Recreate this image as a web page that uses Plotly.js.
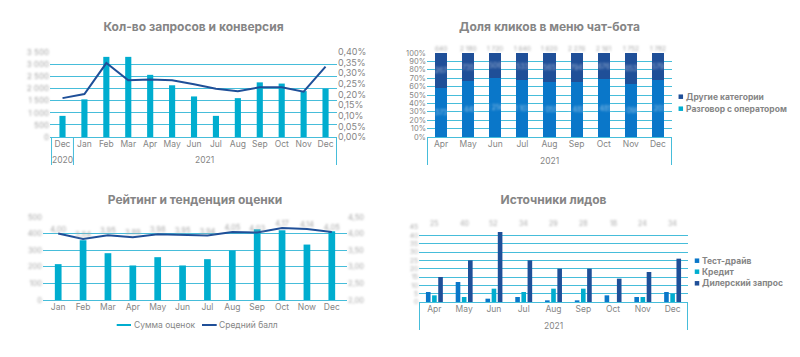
<!DOCTYPE html>
<html><head><meta charset="utf-8">
<script src="https://cdn.plot.ly/plotly-3.0.1.min.js"></script>
<style>
html,body{margin:0;padding:0;background:#fff;width:800px;height:357px;overflow:hidden;}
.ch{position:absolute;}
</style></head><body>
<svg width="0" height="0" style="position:absolute"><defs><filter id="blurF" x="-30%" y="-60%" width="160%" height="220%"><feGaussianBlur stdDeviation="0.9"/></filter></defs></svg>
<div id="c1" class="ch" style="left:0;top:0;width:400px;height:180px"></div>
<div id="c2" class="ch" style="left:400px;top:0;width:400px;height:180px"></div>
<div id="c3" class="ch" style="left:0;top:180px;width:400px;height:177px"></div>
<div id="c4" class="ch" style="left:400px;top:180px;width:400px;height:177px"></div>
<script>
// ---------- Chart 1: Кол-во запросов и конверсия ----------
const c1Years = ['2020','2021','2021','2021','2021','2021','2021','2021','2021','2021','2021','2021','2021'];
const c1Months = ['Dec','Jan','Feb','Mar','Apr','May','Jun','Jul','Aug','Sep','Oct','Nov','Dec'];
const c1Requests = [870,1550,3300,3300,2560,2130,1670,870,1600,2250,2200,1890,1990];
const c1Conversion = [0.00183,0.00202,0.00348,0.00267,0.00271,0.00267,0.00248,0.00227,0.00215,0.00234,0.00234,0.00213,0.00331];

// ---------- Chart 2: Доля кликов в меню чат-бота ----------
const c2Year = ['2021','2021','2021','2021','2021','2021','2021','2021','2021'];
const c2Months = ['Apr','May','Jun','Jul','Aug','Sep','Oct','Nov','Dec'];
const c2Operator = [373,1445,1214,1107,1055,1482,1485,1099,1203];
const c2Other = [267,735,506,533,565,794,676,653,579];
const c2Names = ['Другие категории','Разговор с оператором'];

// ---------- Chart 3: Рейтинг и тенденция оценки ----------
const c3Months = ['Jan','Feb','Mar','Apr','May','Jun','Jul','Aug','Sep','Oct','Now','Dec'];
const c3Sum = [216,360,282,208,258,208,246,298,426,420,334,414];
const c3Avg = [4.00,3.84,3.95,3.89,3.98,3.95,3.94,4.05,4.03,4.17,4.14,4.05];
const c3Names = ['Сумма оценок','Средний балл'];

// ---------- Chart 4: Источники лидов ----------
const c4Year = ['2021','2021','2021','2021','2021','2021','2021','2021','2021'];
const c4Months = ['Apr','May','Jun','Jul','Aug','Sep','Oct','Nov','Dec'];
const c4TestDrive = [6,12,2,3,1,1,4,3,6];
const c4Credit = [4,3,8,6,8,8,0,3,5];
const c4Dealer = [15,25,42,25,20,20,14,18,26];
const c4Totals = [25,40,52,34,29,28,18,24,34];
const c4Names = ['Тест-драйв','Кредит','Дилерский запрос'];

const FONT = 'Inter, "Open Sans", Roboto, sans-serif';
const GREY = '#858585';
const LIGHT = '#a8a8a8';
const GRID = '#46BDDA';
const CYAN = '#00ADCF';
const DARK = '#1F4F98';
const BLUE = '#0A77C9';
const cfg = {staticPlot:true, displayModeBar:false};
const fmt = n => String(n).replace(/\B(?=(\d{3})+(?!\d))/g, ' ');
const titleFont = {family:FONT, size:12, color:GREY, weight:'bold'};

function blur(sel){ document.querySelectorAll(sel).forEach(e=>e.setAttribute('filter','url(#blurF)')); }
function blurAnn(id, n){ document.querySelectorAll(id+' .annotation').forEach((a,i)=>{ if(i<n) a.setAttribute('filter','url(#blurF)'); }); }
// pixel (local to chart div) -> paper coordinates
function P(L, px, py){ return {x:(px-L.l)/(L.w-L.l-L.r), y:(L.h-L.b-py)/(L.h-L.t-L.b)}; }
function squareItem(L, cx, cy, s, color, label, tx, font){
  const a = P(L, cx-s/2, cy+s/2), b = P(L, cx+s/2, cy-s/2), t = P(L, tx, cy);
  return {shape:{type:'rect', xref:'paper', yref:'paper', x0:a.x, y0:a.y, x1:b.x, y1:b.y, fillcolor:color, line:{width:0}},
          ann:{xref:'paper', yref:'paper', x:t.x, y:t.y, xanchor:'left', yanchor:'middle', text:label, showarrow:false, font:font}};
}
function lineItem(L, x0, x1, cy, color, label, tx, font){
  const a = P(L, x0, cy), b = P(L, x1, cy), t = P(L, tx, cy);
  return {shape:{type:'line', xref:'paper', yref:'paper', x0:a.x, y0:a.y, x1:b.x, y1:b.y, line:{color:color, width:2}},
          ann:{xref:'paper', yref:'paper', x:t.x, y:t.y, xanchor:'left', yanchor:'middle', text:label, showarrow:false, font:font}};
}
// two-level category axis: months as ticks, years as group labels, dividers as lines
function groupAxis(L, years, months, yearY, divY){
  const keys = months.map((m,i)=>m+' '+years[i]);
  const groups = [];
  years.forEach((y,i)=>{ const g=groups[groups.length-1]; if(g && g.year===y) g.end=i; else groups.push({year:y,start:i,end:i}); });
  const shapes = [], anns = [];
  const yb = P(L, 0, divY).y, yy = P(L, 0, yearY).y;
  groups.forEach((g,k)=>{
    if(k===0) shapes.push({type:'line', xref:'x', yref:'paper', x0:g.start-0.5, x1:g.start-0.5, y0:0, y1:yb, line:{color:GRID,width:1}});
    shapes.push({type:'line', xref:'x', yref:'paper', x0:g.end+0.5, x1:g.end+0.5, y0:0, y1:yb, line:{color:GRID,width:1}});
    anns.push({xref:'x', yref:'paper', x:(g.start+g.end)/2, y:yy, yanchor:'middle', text:g.year, showarrow:false, font:{size:8.5,color:GREY}});
  });
  return {keys, shapes, anns, xaxis:{type:'category', tickvals:keys, ticktext:months, tickangle:0, showgrid:false, ticks:'', tickfont:{size:8.5,color:GREY}}};
}

// ===== Chart 1 =====
const L1 = {w:400, h:180, l:50, r:63, t:52, b:43};
const g1 = groupAxis(L1, c1Years, c1Months, 160, 165);
Plotly.newPlot('c1', [
  {type:'bar', x:g1.keys, y:c1Requests, marker:{color:CYAN}, width:0.28},
  {type:'scatter', mode:'lines', x:g1.keys, y:c1Conversion, yaxis:'y2', line:{color:DARK,width:2}}
], {
  width:L1.w, height:L1.h, margin:{l:L1.l,r:L1.r,t:L1.t,b:L1.b}, showlegend:false, separators:', ',
  font:{family:FONT,size:8.5,color:GREY}, paper_bgcolor:'#fff', plot_bgcolor:'#fff',
  title:{text:'Кол-во запросов и конверсия', font:titleFont, xref:'paper', x:0.5, xanchor:'center', yref:'container', y:0.85, yanchor:'middle'},
  xaxis:g1.xaxis,
  yaxis:{range:[0,3500], dtick:500, separatethousands:true, gridcolor:GRID, zeroline:true, zerolinecolor:GRID, tickfont:{size:8,color:LIGHT}, ticks:''},
  yaxis2:{overlaying:'y', side:'right', range:[0,0.004], dtick:0.0005, tickformat:'.2%', showgrid:false, zeroline:false, tickfont:{size:9,color:GREY}},
  shapes:g1.shapes, annotations:g1.anns
}, cfg).then(()=>blur('#c1 g.ytick text'));

// ===== Chart 2 =====
const L2 = {w:400, h:180, l:27, r:128, t:53, b:43};
const g2 = groupAxis(L2, c2Year, c2Months, 160.5, 165);
const legFontB = {family:FONT, size:8.5, color:GREY, weight:'bold'};
const c2Leg = [squareItem(L2, 280.8, 96.7, 4.5, DARK, c2Names[0], 284, legFontB),
               squareItem(L2, 280.8, 108.7, 4.5, CYAN, c2Names[1], 284, legFontB)];
Plotly.newPlot('c2', [
  {type:'bar', name:c2Names[1], x:g2.keys, y:c2Operator, marker:{color:BLUE}, width:0.45,
   text:c2Operator.map(fmt), textposition:'inside', insidetextanchor:'middle', textangle:0, constraintext:'none', textfont:{size:7,color:'rgba(255,255,255,0.55)'}},
  {type:'bar', name:c2Names[0], x:g2.keys, y:c2Other, marker:{color:DARK}, width:0.45,
   text:c2Other.map(fmt), textposition:'inside', insidetextanchor:'middle', textangle:0, constraintext:'none', textfont:{size:7,color:'rgba(255,255,255,0.55)'}}
], {
  width:L2.w, height:L2.h, margin:{l:L2.l,r:L2.r,t:L2.t,b:L2.b}, barmode:'stack', barnorm:'percent', separators:', ', showlegend:false,
  font:{family:FONT,size:8.5,color:GREY}, paper_bgcolor:'#fff', plot_bgcolor:'#fff',
  title:{text:'Доля кликов в меню чат-бота', font:titleFont, xref:'paper', x:0.5, xanchor:'center', yref:'container', y:0.85, yanchor:'middle'},
  xaxis:g2.xaxis,
  yaxis:{range:[0,100], dtick:10, ticksuffix:'%', gridcolor:GRID, zeroline:true, zerolinecolor:GRID, tickfont:{size:7.5,color:GREY}, ticks:''},
  shapes:g2.shapes.concat(c2Leg.map(o=>o.shape)),
  annotations: g2.keys.map((k,i)=>({x:k, y:1, xref:'x', yref:'paper', yshift:10, text:fmt(c2Operator[i]+c2Other[i]), showarrow:false, font:{size:6.5,color:LIGHT}}))
    .concat(g2.anns, c2Leg.map(o=>o.ann))
}, cfg).then(()=>{ blur('#c2 .bartext'); blurAnn('#c2', c2Months.length); });

// ===== Chart 3 =====
const L3 = {w:400, h:177, l:43, r:53, t:37, b:57};
const legFont = {family:FONT, size:8.5, color:GREY};
const c3Leg = [lineItem(L3, 116.7, 131, 145, CYAN, c3Names[0], 131.5, legFont),
               lineItem(L3, 202, 216.7, 145, DARK, c3Names[1], 216.5, legFont)];
Plotly.newPlot('c3', [
  {type:'bar', name:c3Names[0], x:c3Months, y:c3Sum, marker:{color:CYAN}, width:0.27},
  {type:'scatter', name:c3Names[1], mode:'lines+text', x:c3Months, y:c3Avg, yaxis:'y2', line:{color:DARK,width:2},
   texttemplate:'%{y:.2f}', textposition:'top center', textfont:{size:7.5,color:LIGHT}}
], {
  width:L3.w, height:L3.h, margin:{l:L3.l,r:L3.r,t:L3.t,b:L3.b}, separators:', ', showlegend:false,
  font:{family:FONT,size:8.5,color:GREY}, paper_bgcolor:'#fff', plot_bgcolor:'#fff',
  title:{text:'Рейтинг и тенденция оценки', font:titleFont, xref:'paper', x:0.5, xanchor:'center', yref:'container', y:0.887, yanchor:'middle'},
  xaxis:{type:'category', tickangle:0, showgrid:false, ticks:'', tickfont:{size:8.5,color:GREY}},
  yaxis:{range:[0,500], dtick:100, gridcolor:GRID, zeroline:true, zerolinecolor:GRID, tickfont:{size:7.5,color:LIGHT}, ticks:''},
  yaxis2:{overlaying:'y', side:'right', range:[2,4.5], dtick:0.5, tickformat:'.2f', showgrid:false, zeroline:false, tickfont:{size:7.5,color:LIGHT}},
  shapes:c3Leg.map(o=>o.shape), annotations:c3Leg.map(o=>o.ann)
}, cfg).then(()=>blur('#c3 g.ytick text, #c3 g.y2tick text, #c3 .textpoint text'));

// ===== Chart 4 =====
const L4 = {w:400, h:177, l:19, r:112, t:47, b:55};
const g4 = groupAxis(L4, c4Year, c4Months, 145.7, 150);
const c4Colors = [BLUE, CYAN, DARK];
const c4Rows = [80.7, 91.7, 103.3];
const c4Leg = c4Names.map((n,i)=>squareItem(L4, 297, c4Rows[i], 4.5, c4Colors[i], n, 300, legFontB));
Plotly.newPlot('c4', [
  {type:'bar', name:c4Names[0], x:g4.keys, y:c4TestDrive, marker:{color:BLUE}},
  {type:'bar', name:c4Names[1], x:g4.keys, y:c4Credit, marker:{color:CYAN}},
  {type:'bar', name:c4Names[2], x:g4.keys, y:c4Dealer, marker:{color:DARK}}
], {
  width:L4.w, height:L4.h, margin:{l:L4.l,r:L4.r,t:L4.t,b:L4.b}, barmode:'group', bargap:0.38, bargroupgap:0.25, separators:', ', showlegend:false,
  font:{family:FONT,size:8.5,color:GREY}, paper_bgcolor:'#fff', plot_bgcolor:'#fff',
  title:{text:'Источники лидов', font:titleFont, xref:'paper', x:0.5, xanchor:'center', yref:'container', y:0.887, yanchor:'middle'},
  xaxis:g4.xaxis,
  yaxis:{range:[0,45], dtick:5, gridcolor:GRID, zeroline:true, zerolinecolor:GRID, tickfont:{size:6.5,color:LIGHT}, ticks:''},
  shapes:g4.shapes.concat(c4Leg.map(o=>o.shape)),
  annotations: g4.keys.map((k,i)=>({x:k, y:1, xref:'x', yref:'paper', yshift:10, text:String(c4Totals[i]), showarrow:false, font:{size:7,color:LIGHT}}))
    .concat(g4.anns, c4Leg.map(o=>o.ann))
}, cfg).then(()=>{ blur('#c4 g.ytick text'); blurAnn('#c4', c4Months.length); });
</script>
</body></html>
